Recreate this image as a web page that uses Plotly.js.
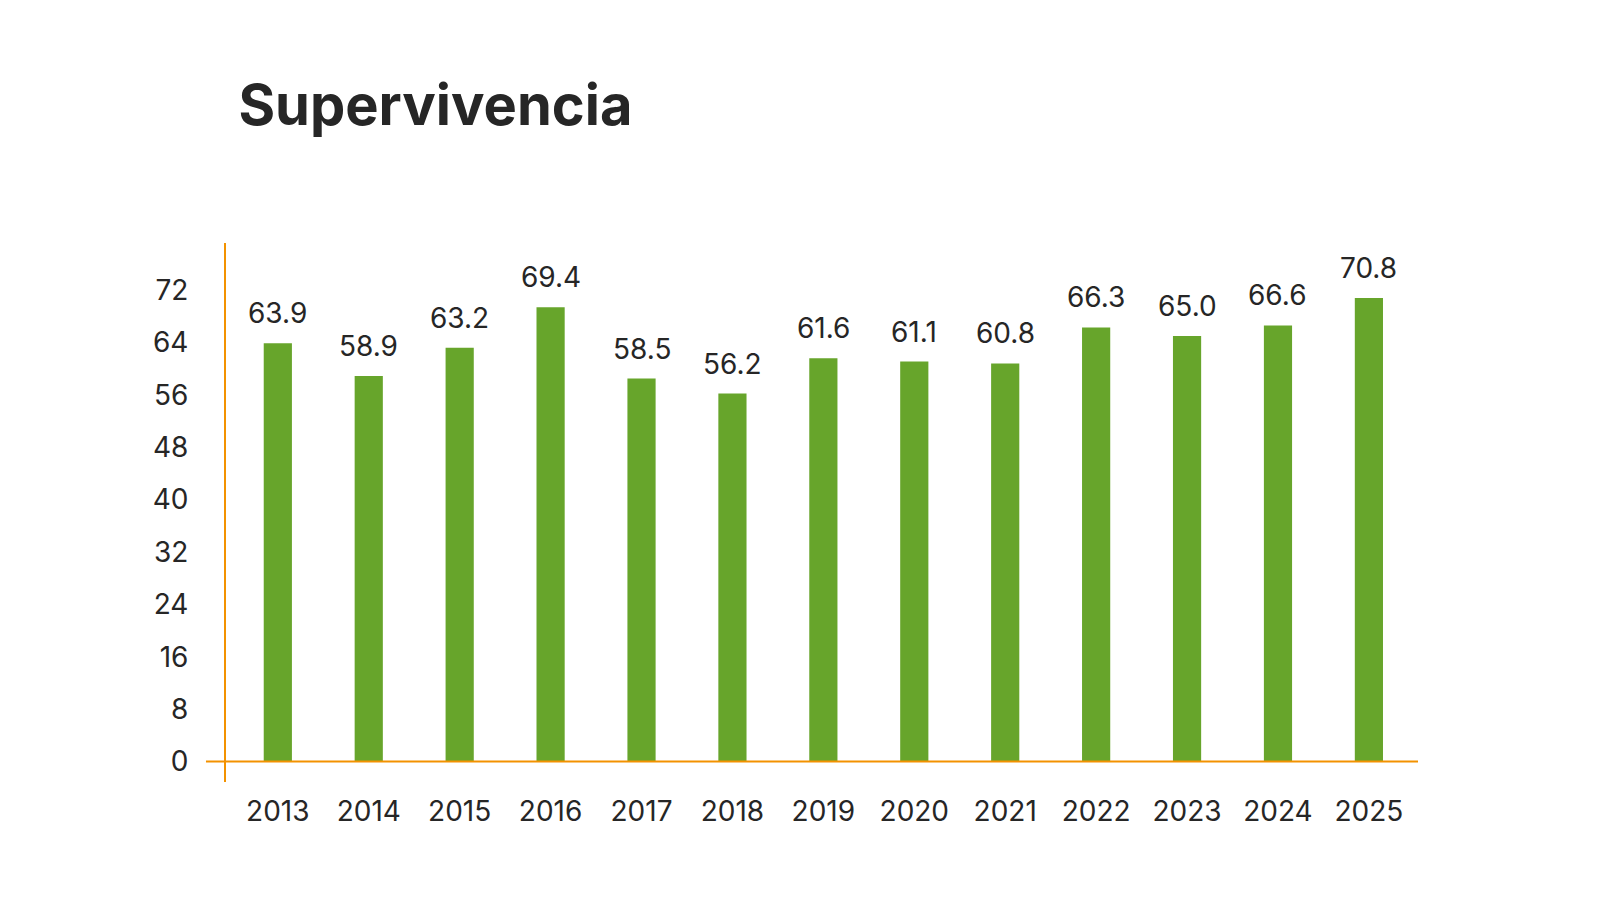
<!DOCTYPE html>
<html>
<head>
<meta charset="utf-8">
<script src="https://cdn.plot.ly/plotly-3.0.1.min.js"></script>
<style>
  html, body { margin: 0; padding: 0; background: #ffffff; }
  #chart { width: 1600px; height: 900px; }
</style>
</head>
<body>
<div id="chart"></div>
<script>
// años y valores de supervivencia
const years = ['2013','2014','2015','2016','2017','2018','2019','2020','2021','2022','2023','2024','2025'];
const values = [63.9, 58.9, 63.2, 69.4, 58.5, 56.2, 61.6, 61.1, 60.8, 66.3, 65.0, 66.6, 70.8];
const yTicks = [0, 8, 16, 24, 32, 40, 48, 56, 64, 72];

const green = '#67a52b';
const orange = '#f39200';
const ink = '#262626';

const bars = {
    x: years,
    y: values,
    type: 'bar',
    width: 0.31,
    marker: {color: green},
    hoverinfo: 'x+y'
};

// etiquetas sobre cada barra (x = índice de categoría)
const labels = years.map((yr, i) => ({
    x: i,
    y: values[i],
    xref: 'x', yref: 'y',
    text: values[i].toFixed(1),
    showarrow: false,
    yanchor: 'bottom',
    yshift: 11,
    font: {family: 'Inter, sans-serif', size: 28, color: ink}
}));

const layout = {
    width: 1600,
    height: 900,
    paper_bgcolor: '#ffffff',
    plot_bgcolor: '#ffffff',
    margin: {l: 226, r: 182, t: 243, b: 118},
    showlegend: false,
    title: {
        text: '<b>Supervivencia</b>',
        xref: 'container', yref: 'container',
        x: 0.149, xanchor: 'left',
        y: 0.883, yanchor: 'middle',
        font: {family: 'Inter, sans-serif', size: 56, color: ink}
    },
    xaxis: {
        type: 'category',
        range: [-0.57, 12.54],
        showgrid: false,
        zeroline: false,
        showline: false,
        ticks: '',
        ticklabelstandoff: 10,
        tickfont: {family: 'Inter, sans-serif', size: 28, color: ink}
    },
    yaxis: {
        range: [-3.13, 79.2],
        tickvals: yTicks,
        showgrid: false,
        zeroline: false,
        showline: true,
        linecolor: orange,
        linewidth: 2,
        ticks: '',
        ticklabelstandoff: 30,
        tickfont: {family: 'Inter, sans-serif', size: 28, color: ink}
    },
    shapes: [{
        type: 'line',
        xref: 'paper', yref: 'y',
        x0: -0.0168, x1: 1, y0: 0, y1: 0,
        line: {color: orange, width: 2}
    }],
    annotations: labels
};

Plotly.newPlot('chart', [bars], layout, {displayModeBar: false, staticPlot: true});
</script>
</body>
</html>
